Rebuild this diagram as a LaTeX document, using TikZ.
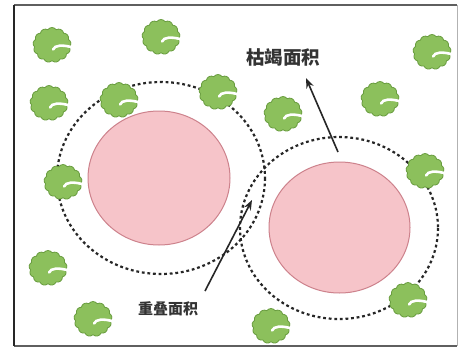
\documentclass[tikz,border=0pt]{standalone}
\usepackage{fontspec}
\newfontfamily\cjk{Noto Sans CJK SC}
\usetikzlibrary{shapes.symbols,arrows.meta}
\definecolor{bushfill}{RGB}{140,192,92}
\definecolor{bushedge}{RGB}{104,156,62}
\definecolor{poolfill}{RGB}{246,196,201}
\definecolor{pooledge}{RGB}{205,130,140}
\definecolor{framegray}{RGB}{95,95,95}
\tikzset{
  bush/.pic={
    \node[cloud, cloud puffs=13, cloud puff arc=110, aspect=1.08,
          minimum width=38pt, minimum height=35pt, inner sep=0pt,
          fill=bushfill, draw=bushedge, line width=0.8pt] (-c) at (0,0) {};
    \draw[white, line width=2.6pt, line cap=round]
      (21,2.5) .. controls (10,-0.5) and (3,0) .. (1,4.5);
  },
  pool/.style={fill=poolfill, draw=pooledge, line width=1pt},
  zone/.style={draw=black!85, line width=2.2pt, dash pattern=on 2.8pt off 2.8pt},
  pointer/.style={draw=black!85, line width=1.6pt, -{Stealth[length=10pt,width=7.5pt]}},
  tag/.style={font=\cjk, text=black!80, inner sep=1pt},
}
\begin{document}
\begin{tikzpicture}[x=1pt,y=-1pt]
  \useasboundingbox (0,0) rectangle (460,348);
  \fill[white] (0,0) rectangle (460,348);

  % frame
  \draw[framegray, line width=1.6pt] (14,5) -- (457,5);
  \draw[framegray, line width=1.6pt] (14,346) -- (457,346);
  \draw[black!85, line width=2.4pt] (14,5) -- (14,346);
  \draw[black!30, line width=1pt] (457,5) -- (457,346);

  % depleted pools
  \draw[pool] (159,178) ellipse [x radius=71, y radius=67];
  \draw[pool] (339.5,227.5) ellipse [x radius=70.5, y radius=65.5];

  % dotted influence zones
  \draw[zone] (161,178) ellipse [x radius=104, y radius=96];
  \draw[zone] (339,228) ellipse [x radius=99, y radius=91];

  % labels and pointers
  \node[tag, font=\cjk\bfseries\fontsize{18.5}{20}\selectfont] (dep) at (283,57) {枯竭面积};
  \node[tag, font=\cjk\bfseries\fontsize{15}{17}\selectfont] (ovl) at (168,309) {重叠面积};
  \coordinate (depTail) at (338,152);
  \coordinate (depTip) at (306,78);
  \coordinate (ovlTail) at (205,291);
  \coordinate (ovlTip) at (252,200);
  \draw[pointer] (depTail) -- (depTip);
  \draw[pointer] (ovlTail) -- (ovlTip);

  % vegetation
  \pic (b1) at (52,45) {bush};
  \pic (b2) at (161,37) {bush};
  \pic (b3) at (432,52) {bush};
  \pic (b4) at (49,103) {bush};
  \pic (b5) at (119,100) {bush};
  \pic (b6) at (218,92) {bush};
  \pic (b7) at (283,114) {bush};
  \pic (b8) at (380,99) {bush};
  \pic (b9) at (63,182) {bush};
  \pic (b10) at (425,171) {bush};
  \pic (b11) at (48,268) {bush};
  \pic (b12) at (93,319) {bush};
  \pic (b13) at (408,300) {bush};
  \pic (b14) at (271,326) {bush};
\end{tikzpicture}
\end{document}
